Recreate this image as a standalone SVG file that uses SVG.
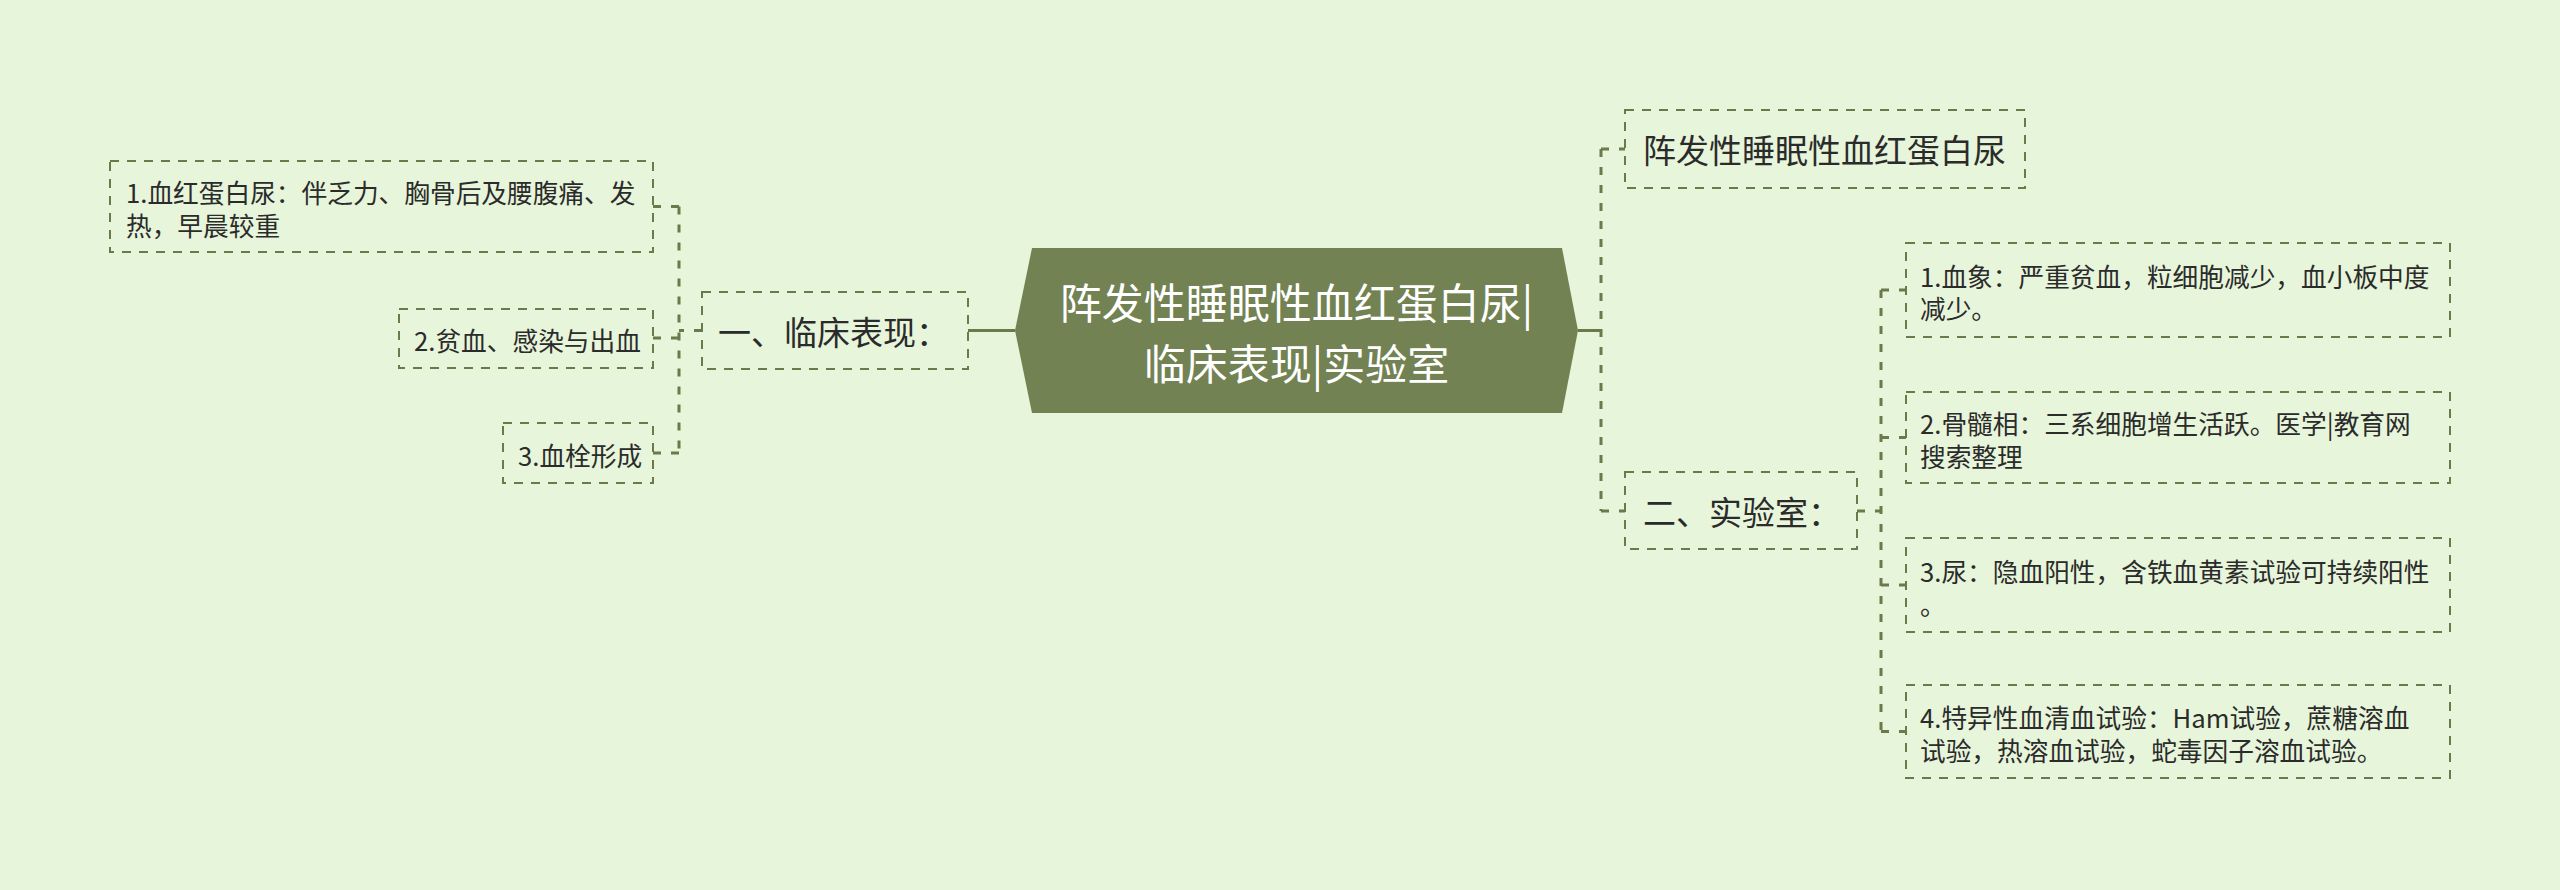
<svg xmlns="http://www.w3.org/2000/svg" width="2560" height="890" viewBox="0 0 2560 890">
<style>
.t{font-family:"Noto Sans CJK SC","Noto Sans",sans-serif;fill:#2b2b2b;dominant-baseline:central}
.leaf{font-size:25.7px}
.l1{font-size:33px}
.root{font-size:42px;fill:#ffffff;text-anchor:middle}
.box{fill:none;stroke:#6b7a4b;stroke-width:2;stroke-dasharray:9 8}
.con{fill:none;stroke:#6b7a4b;stroke-width:3;stroke-dasharray:8 10}
.solid{fill:none;stroke:#6b7a4b;stroke-width:3}
</style>
<rect width="2560" height="890" fill="#e7f5da"/>
<g id="connectors">
  <path class="solid" d="M968 330.5 H1015"/>
  <path class="solid" d="M1578 330.5 H1601"/>
  <path class="con" d="M1601 149 V511"/>
  <path class="con" d="M1601 149 H1625"/>
  <path class="con" d="M1601 511 H1625"/>
  <path class="con" d="M702 330.5 H679"/>
  <path class="con" d="M679 206.5 V453"/>
  <path class="con" d="M679 206.5 H653"/>
  <path class="con" d="M679 338 H653"/>
  <path class="con" d="M679 453 H653"/>
  <path class="con" d="M1857 511 H1881"/>
  <path class="con" d="M1881 290 V731.5"/>
  <path class="con" d="M1881 290 H1906"/>
  <path class="con" d="M1881 437.5 H1906"/>
  <path class="con" d="M1881 585 H1906"/>
  <path class="con" d="M1881 731.5 H1906"/>
</g>
<g id="root">
  <polygon points="1015,330.5 1032,248 1562,248 1578,330.5 1562,413 1032,413" fill="#738253"/>
  <text class="t root" x="1296.5" y="300">阵发性睡眠性血红蛋白尿|</text>
  <text class="t root" x="1296.5" y="361.5">临床表现|实验室</text>
</g>
<g id="n-clinical">
  <rect class="box" x="702" y="292" width="266" height="77"/>
  <text class="t l1" x="718" y="330.5">一、临床表现：</text>
</g>
<g id="n-clinical-1">
  <rect class="box" x="110" y="161" width="543" height="91"/>
  <text class="t leaf" x="126" y="191">1.血红蛋白尿：伴乏力、胸骨后及腰腹痛、发</text>
  <text class="t leaf" x="126" y="224">热，早晨较重</text>
</g>
<g id="n-clinical-2">
  <rect class="box" x="399" y="309" width="254" height="59"/>
  <text class="t leaf" x="414" y="339">2.贫血、感染与出血</text>
</g>
<g id="n-clinical-3">
  <rect class="box" x="503" y="423" width="150" height="60"/>
  <text class="t leaf" x="518" y="454">3.血栓形成</text>
</g>
<g id="n-title">
  <rect class="box" x="1625" y="110" width="400" height="78"/>
  <text class="t l1" x="1643" y="149">阵发性睡眠性血红蛋白尿</text>
</g>
<g id="n-lab">
  <rect class="box" x="1625" y="472" width="232" height="77"/>
  <text class="t l1" x="1643" y="511">二、实验室：</text>
</g>
<g id="n-lab-1">
  <rect class="box" x="1906" y="243" width="544" height="94"/>
  <text class="t leaf" x="1920" y="275">1.血象：严重贫血，粒细胞减少，血小板中度</text>
  <text class="t leaf" x="1920" y="307">减少。</text>
</g>
<g id="n-lab-2">
  <rect class="box" x="1906" y="392" width="544" height="91"/>
  <text class="t leaf" x="1920" y="422">2.骨髓相：三系细胞增生活跃。医学|教育网</text>
  <text class="t leaf" x="1920" y="455">搜索整理</text>
</g>
<g id="n-lab-3">
  <rect class="box" x="1906" y="538" width="544" height="94"/>
  <text class="t leaf" x="1920" y="570">3.尿：隐血阳性，含铁血黄素试验可持续阳性</text>
  <text class="t leaf" x="1920" y="603">。</text>
</g>
<g id="n-lab-4">
  <rect class="box" x="1906" y="685" width="544" height="93"/>
  <text class="t leaf" x="1920" y="716">4.特异性血清血试验：Ham试验，蔗糖溶血</text>
  <text class="t leaf" x="1920" y="749">试验，热溶血试验，蛇毒因子溶血试验。</text>
</g>
</svg>
